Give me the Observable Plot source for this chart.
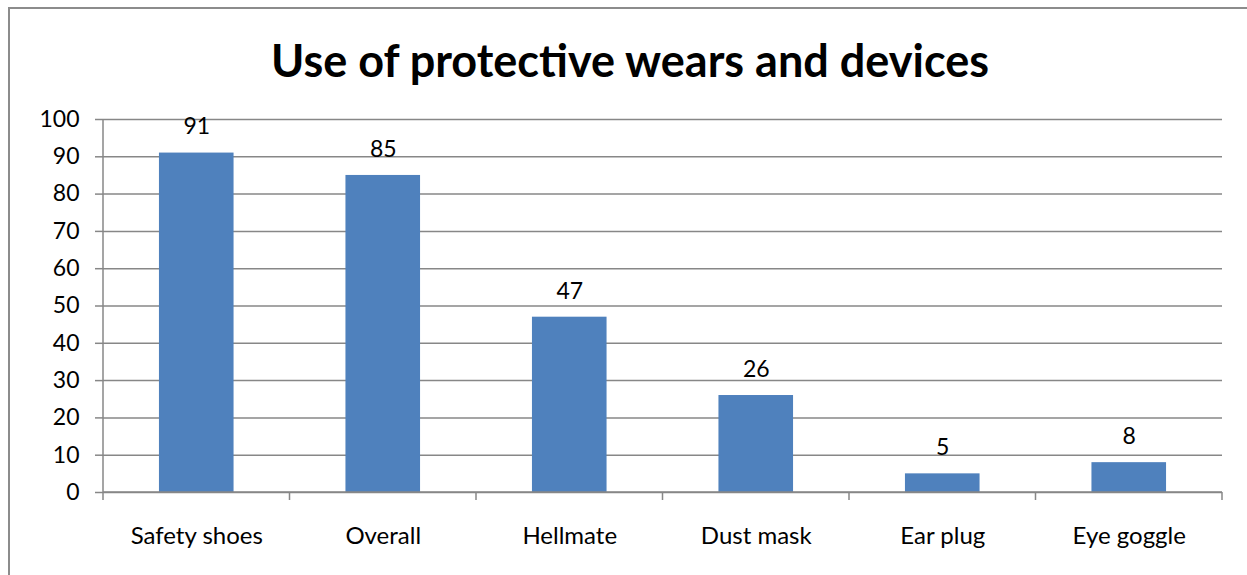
<!DOCTYPE html>
<html>
<head>
<meta charset="utf-8">
<script src="https://cdn.jsdelivr.net/npm/d3@7"></script>
<script src="https://cdn.jsdelivr.net/npm/@observablehq/plot@0.6"></script>
<style>
  html, body { margin: 0; padding: 0; background: #fff; }
  #wrap { position: relative; width: 1247px; height: 575px; overflow: hidden; font-family: Lato, "Open Sans", sans-serif; }
  #frame { position: absolute; left: 8px; top: 7px; width: 1300px; height: 700px; border-left: 2px solid #8c8c8c; border-top: 2px solid #8c8c8c; }
  #title { position: absolute; top: 33px; left: 0; width: 1260px; text-align: center; font-size: 45px; font-weight: bold; color: #000; }
  #chart { position: absolute; left: 0; top: 100px; }
</style>
</head>
<body>
<div id="wrap">
  <div id="frame"></div>
  <div id="title">Use of protective wears and devices</div>
  <div id="chart"></div>
</div>
<script>
const categories = ["Safety shoes", "Overall", "Hellmate", "Dust mask", "Ear plug", "Eye goggle"];
const values = [91, 85, 47, 26, 5, 8];
const yTicks = [0, 10, 20, 30, 40, 50, 60, 70, 80, 90, 100];

const data = categories.map((c, i) => ({category: c, value: values[i]}));
const gridColor = "#878787";
const font = "Lato, 'Open Sans', sans-serif";

const plot = Plot.plot({
  width: 1247,
  height: 475,
  marginLeft: 103,
  marginRight: 25,
  marginTop: 19,
  marginBottom: 83,
  style: {fontFamily: font, fontSize: "23px", color: "#000", background: "transparent"},
  x: {domain: categories, paddingInner: 0.6, paddingOuter: 0.3, round: false, label: null, axis: null},
  y: {domain: [0, 100], label: null, axis: null},
  marks: [
    Plot.ruleY(yTicks, {stroke: gridColor, strokeWidth: 1.5}),
    Plot.axisY({ticks: yTicks, tickSize: 8, tickPadding: 16, stroke: gridColor, strokeWidth: 1.5, fill: "#000", fontSize: 23, label: null}),
    Plot.barY(data, {x: "category", y: "value", fill: "#4f81bd"}),
    Plot.text(data, {x: "category", y: "value", text: d => String(d.value), dy: -26, fontSize: 23, fill: "#000"}),
    Plot.axisX({tickSize: 0, tickPadding: 34, fontSize: 24, fill: "#000", label: null, stroke: "none"})
  ]
});

document.getElementById("chart").appendChild(plot);

// Axis line, left axis line, and category boundary ticks positioned from the plot's scales
const xs = plot.scale("x");
const ys = plot.scale("y");
const svg = d3.select(plot);
const y0 = ys.apply(0);
const [left, right] = xs.range;
const g = svg.append("g").attr("stroke", gridColor).attr("stroke-width", 1.5);
g.append("line").attr("x1", left).attr("x2", right).attr("y1", y0).attr("y2", y0);
g.append("line").attr("x1", left).attr("x2", left).attr("y1", ys.apply(100)).attr("y2", y0 + 8);
const step = (right - left) / categories.length;
for (let i = 1; i <= categories.length; i++) {
  const x = left + step * i;
  g.append("line").attr("x1", x).attr("x2", x).attr("y1", y0).attr("y2", y0 + 8);
}
</script>
</body>
</html>
